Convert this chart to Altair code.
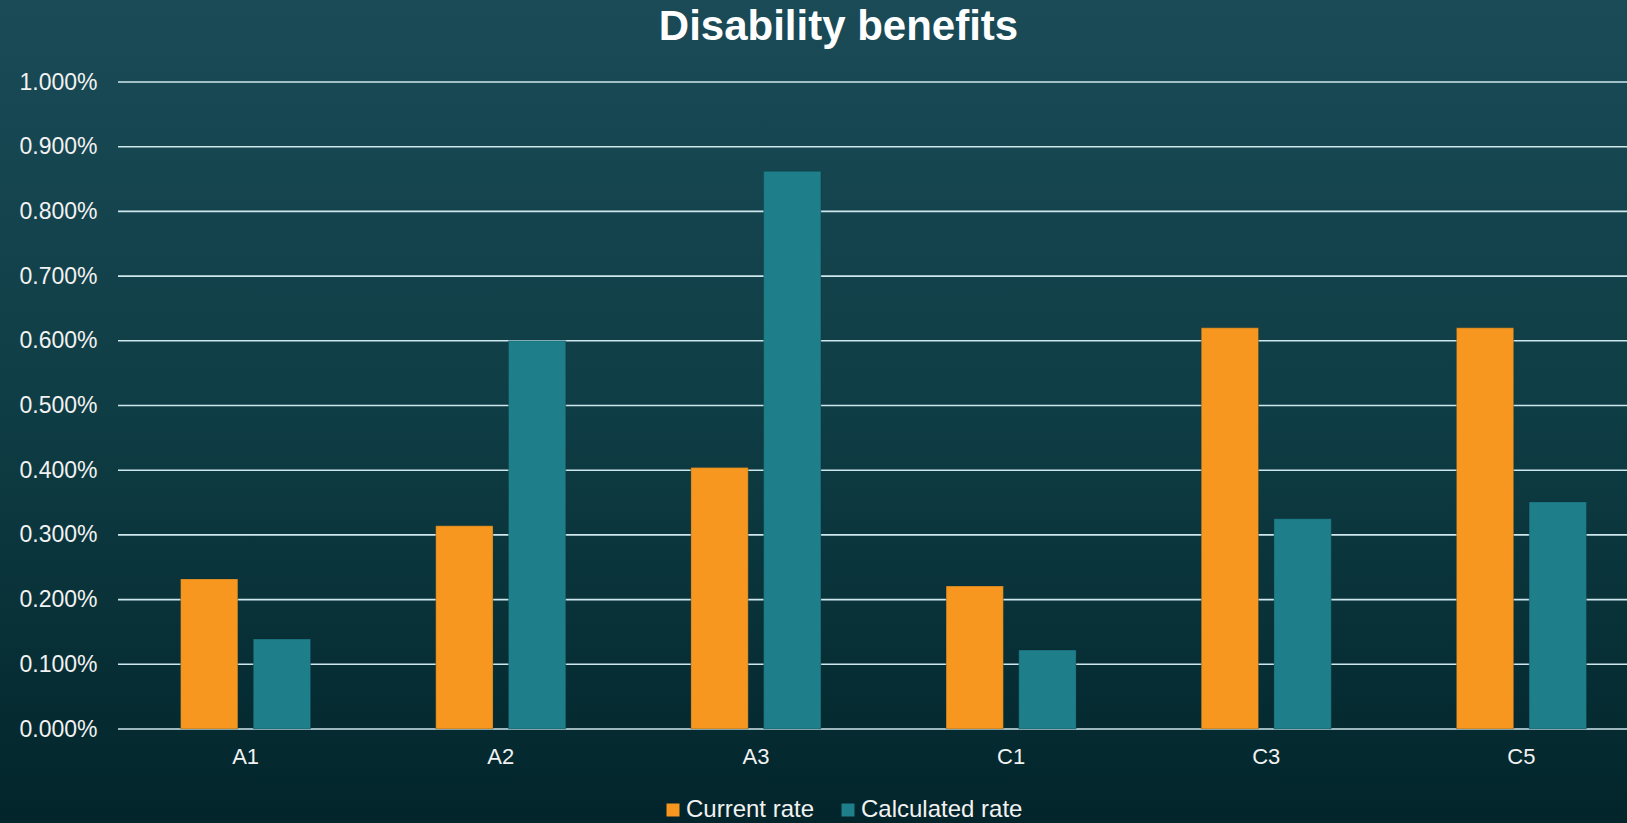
import altair as alt
import pandas as pd

categories = ["A1", "A2", "A3", "C1", "C3", "C5"]
current_rate = [0.00232, 0.00314, 0.00404, 0.00221, 0.00620, 0.00620]
calculated_rate = [0.00139, 0.00600, 0.00862, 0.00122, 0.00325, 0.00351]
series_names = ["Current rate", "Calculated rate"]
series_colors = ["#F7971F", "#1E7F8B"]
y_ticks = [0.000, 0.001, 0.002, 0.003, 0.004, 0.005, 0.006, 0.007, 0.008, 0.009, 0.010]

rows = []
for i, c in enumerate(categories):
    rows.append({"cat": c, "series": series_names[0], "value": current_rate[i]})
    rows.append({"cat": c, "series": series_names[1], "value": calculated_rate[i]})
df = pd.DataFrame(rows)
grid_df = pd.DataFrame({"value": y_ticks})
bg_df = pd.DataFrame({"a": [0]})

FONT = "Liberation Sans"
W, H = 1509, 647
PL, PT, PB = 118, 82, 94

y_scale = alt.Scale(domain=[0, 0.01], nice=False, zero=True)
y_axis = alt.Axis(values=y_ticks, format=".3%", labelColor="#f2f2f2",
                  labelFontSize=23, labelFont=FONT, labelPadding=21,
                  domain=False, ticks=False, grid=False, zindex=2)

bg = alt.Chart(bg_df).mark_rect(
    color=alt.LinearGradient(
        gradient="linear",
        stops=[alt.GradientStop(color="#1a4b57", offset=0),
               alt.GradientStop(color="#0f3d45", offset=0.5),
               alt.GradientStop(color="#02252b", offset=1)],
        x1=0, x2=0, y1=0, y2=1,
    )
).encode(
    x=alt.value(-PL), x2=alt.value(W), y=alt.value(-PT), y2=alt.value(H + PB)
)

grid = alt.Chart(grid_df).mark_rule(color="#cfe8ee", strokeWidth=1.6).encode(
    y=alt.Y("value:Q", scale=y_scale, title=None, axis=y_axis)
)

bars = alt.Chart(df).mark_bar(stroke="#0b3338", strokeWidth=0.6, strokeOpacity=0.5).encode(
    x=alt.X("cat:N", sort=categories, title=None,
            scale=alt.Scale(range=[0, 1531], paddingInner=0.4904, paddingOuter=0.2452),
            axis=alt.Axis(labelColor="#f2f2f2", labelFontSize=22, labelFont=FONT,
                          labelPadding=17, domain=False, ticks=False, grid=False,
                          labelAngle=0, zindex=2)),
    xOffset=alt.XOffset("series:N", sort=series_names,
                        scale=alt.Scale(paddingInner=0.212, paddingOuter=0)),
    y=alt.Y("value:Q", scale=y_scale, title=None, axis=y_axis),
    color=alt.Color("series:N", sort=series_names,
                    scale=alt.Scale(domain=series_names, range=series_colors),
                    legend=alt.Legend(title=None, orient="none", direction="horizontal",
                                      legendX=543, legendY=716, symbolType="square",
                                      symbolSize=169, symbolStrokeWidth=0,
                                      labelFontSize=24, labelFont=FONT, labelLimit=400,
                                      labelColor="#f2f2f2", labelOffset=1,
                                      columnPadding=21, padding=0, zindex=2)),
)

chart = alt.layer(bg, grid, bars).properties(
    width=W, height=H,
    padding={"left": PL, "top": PT, "right": 0, "bottom": PB},
    autosize=alt.AutoSizeParams(type="none"),
    background="#0f3d45",
    title=alt.TitleParams("Disability benefits", font=FONT, fontSize=42,
                          fontWeight="bold", color="#ffffff", anchor="middle",
                          dx=-34, dy=69, offset=20, zindex=2),
).configure_view(stroke=None)

chart.save("out.html", embed_options={"renderer": "svg", "actions": False})
